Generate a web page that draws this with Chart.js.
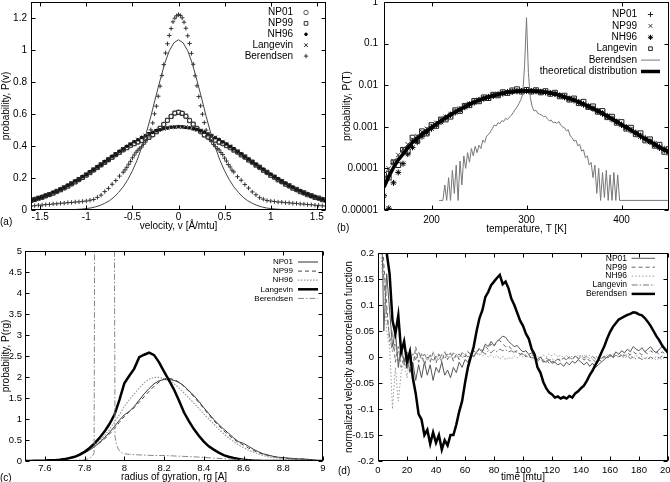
<!DOCTYPE html>
<html>
<head>
<meta charset="utf-8">
<script src="https://cdn.jsdelivr.net/npm/chart.js@4.4.1/dist/chart.umd.min.js"></script>
<style>
  html, body { margin: 0; padding: 0; background: #fff; }
  #wrap { position: relative; width: 670px; height: 482px; overflow: hidden; }
  canvas { position: absolute; }
</style>
</head>
<body>
<div id="wrap">
  <canvas id="chart-a" width="335" height="241" style="left:0;top:0"></canvas>
  <canvas id="chart-b" width="335" height="241" style="left:335px;top:0"></canvas>
  <canvas id="chart-c" width="335" height="241" style="left:0;top:241px"></canvas>
  <canvas id="chart-d" width="335" height="241" style="left:335px;top:241px"></canvas>
</div>
<script>
// ---- (a) velocity distribution ----
let vel = [-1.6,-1.56,-1.52,-1.48,-1.44,-1.4,-1.36,-1.32,-1.28,-1.24,-1.2,-1.16,-1.12,-1.08,-1.04,-1,-0.96,-0.92,-0.88,-0.84,
  -0.8,-0.76,-0.72,-0.68,-0.64,-0.6,-0.56,-0.52,-0.48,-0.44,-0.4,-0.36,-0.32,-0.28,-0.24,-0.2,-0.16,-0.12,-0.08,-0.04,0,
  0.04,0.08,0.12,0.16,0.2,0.24,0.28,0.32,0.36,0.4,0.44,0.48,0.52,0.56,0.6,0.64,0.68,0.72,0.76,0.8,
  0.84,0.88,0.92,0.96,1,1.04,1.08,1.12,1.16,1.2,1.24,1.28,1.32,1.36,1.4,1.44,1.48,1.52,1.56,1.6];
let np01A = [0.061,0.067,0.072,0.081,0.088,0.096,0.107,0.115,0.128,0.137,0.151,0.162,0.177,0.189,0.205,0.217,0.235,0.249,0.267,0.281,
  0.299,0.313,0.331,0.345,0.362,0.375,0.391,0.403,0.416,0.424,0.436,0.444,0.456,0.469,0.491,0.509,0.536,0.559,0.586,0.604,0.612,
  0.606,0.584,0.561,0.534,0.511,0.489,0.471,0.454,0.446,0.434,0.426,0.414,0.405,0.389,0.377,0.36,0.347,0.329,0.315,0.297,
  0.283,0.265,0.251,0.233,0.219,0.203,0.191,0.175,0.164,0.149,0.139,0.126,0.117,0.105,0.098,0.087,0.081,0.072,0.067,0.059];
let np99A = [0.059,0.065,0.074,0.079,0.089,0.097,0.105,0.117,0.126,0.139,0.149,0.164,0.175,0.191,0.203,0.219,0.233,0.251,0.265,0.283,
  0.297,0.315,0.329,0.347,0.36,0.377,0.389,0.405,0.414,0.426,0.434,0.446,0.454,0.471,0.489,0.511,0.534,0.561,0.584,0.606,0.61,
  0.603,0.587,0.558,0.537,0.508,0.492,0.468,0.457,0.443,0.437,0.423,0.417,0.402,0.392,0.374,0.363,0.344,0.332,0.312,0.3,
  0.28,0.268,0.248,0.236,0.216,0.206,0.188,0.178,0.161,0.152,0.136,0.129,0.114,0.108,0.095,0.09,0.078,0.075,0.064,0.062];
let nh96A = [0.06,0.065,0.074,0.08,0.09,0.097,0.109,0.117,0.13,0.14,0.154,0.165,0.181,0.192,0.208,0.221,0.238,0.251,0.269,0.283,
  0.301,0.315,0.334,0.348,0.366,0.38,0.398,0.411,0.427,0.439,0.454,0.464,0.477,0.485,0.496,0.501,0.509,0.512,0.518,0.518,0.521,
  0.52,0.516,0.514,0.507,0.503,0.494,0.487,0.475,0.466,0.452,0.441,0.425,0.413,0.396,0.382,0.364,0.35,0.332,0.317,0.299,
  0.285,0.267,0.253,0.236,0.223,0.206,0.194,0.179,0.167,0.152,0.142,0.128,0.119,0.107,0.099,0.088,0.082,0.072,0.067,0.058];
let langA = [0.058,0.067,0.072,0.082,0.088,0.099,0.107,0.119,0.128,0.142,0.152,0.167,0.179,0.194,0.206,0.223,0.236,0.253,0.267,0.285,
  0.299,0.317,0.332,0.35,0.364,0.382,0.396,0.413,0.425,0.441,0.452,0.466,0.475,0.487,0.494,0.503,0.507,0.514,0.516,0.52,0.519,
  0.518,0.518,0.512,0.509,0.501,0.496,0.485,0.477,0.464,0.454,0.439,0.427,0.411,0.398,0.38,0.366,0.348,0.334,0.315,0.301,
  0.283,0.269,0.251,0.238,0.221,0.208,0.192,0.181,0.165,0.154,0.14,0.13,0.117,0.109,0.097,0.09,0.08,0.074,0.065,0.06];
let velB = [-1.6,-1.56,-1.52,-1.48,-1.44,-1.4,-1.36,-1.32,-1.28,-1.24,-1.2,-1.16,-1.12,-1.08,-1.04,-1,-0.96,-0.92,-0.88,-0.84,-0.8,-0.76,-0.72,-0.68,-0.64,
  -0.6,-0.58,-0.56,-0.54,-0.52,-0.5,-0.48,-0.46,-0.44,-0.42,-0.4,-0.38,-0.36,-0.34,-0.32,-0.3,-0.28,-0.26,-0.24,-0.22,
  -0.2,-0.18,-0.16,-0.14,-0.12,-0.1,-0.08,-0.06,-0.04,-0.02,0,0.02,0.04,0.06,0.08,0.1,0.12,0.14,0.16,0.18,
  0.2,0.22,0.24,0.26,0.28,0.3,0.32,0.34,0.36,0.38,0.4,0.42,0.44,0.46,0.48,0.5,0.52,0.54,0.56,0.58,
  0.6,0.64,0.68,0.72,0.76,0.8,0.84,0.88,0.92,0.96,1,1.04,1.08,1.12,1.16,1.2,1.24,1.28,1.32,1.36,1.4,1.44,1.48,1.52,1.56,1.6];
let berA = [0.024,0.027,0.03,0.031,0.034,0.035,0.038,0.039,0.042,0.043,0.046,0.047,0.05,0.051,0.054,0.056,0.061,0.066,0.079,0.093,0.115,0.135,0.161,0.184,0.212,
  0.236,0.251,0.267,0.286,0.304,0.326,0.344,0.361,0.374,0.386,0.394,0.411,0.424,0.441,0.464,0.501,0.544,0.601,0.649,0.711,
  0.774,0.841,0.909,0.981,1.039,1.091,1.134,1.176,1.199,1.214,1.221,1.216,1.201,1.174,1.136,1.089,1.041,0.979,0.911,0.839,
  0.776,0.709,0.651,0.599,0.546,0.499,0.466,0.439,0.426,0.409,0.396,0.384,0.376,0.359,0.346,0.324,0.306,0.284,0.269,0.249,
  0.238,0.208,0.186,0.159,0.137,0.113,0.095,0.077,0.068,0.059,0.056,0.053,0.05,0.049,0.046,0.045,0.042,0.041,0.038,0.037,0.034,0.033,0.03,0.029,0.026,0.025];
let velL = [-1.6,-1.55,-1.5,-1.45,-1.4,-1.35,-1.3,-1.25,-1.2,-1.15,-1.1,-1.05,-1,-0.95,-0.9,-0.85,-0.8,-0.75,-0.7,-0.65,-0.6,-0.55,-0.5,-0.45,-0.4,-0.35,-0.3,-0.25,-0.2,-0.15,-0.1,-0.05,0,
  0.05,0.1,0.15,0.2,0.25,0.3,0.35,0.4,0.45,0.5,0.55,0.6,0.65,0.7,0.75,0.8,0.85,0.9,0.95,1,1.05,1.1,1.15,1.2,1.25,1.3,1.35,1.4,1.45,1.5,1.55,1.6];
let curveA = [0,0,0.0001,0.0001,0.0002,0.0003,0.0005,0.001,0.0015,0.0025,0.004,0.006,0.009,0.013,0.02,0.029,0.042,0.058,0.08,0.11,0.145,0.19,0.245,0.31,0.39,0.48,0.585,0.7,0.81,0.915,0.995,1.045,1.064,
  1.045,0.995,0.915,0.81,0.7,0.585,0.48,0.39,0.31,0.245,0.19,0.145,0.11,0.08,0.058,0.042,0.029,0.02,0.013,0.009,0.006,0.004,0.0025,0.0015,0.001,0.0005,0.0003,0.0002,0.0001,0.0001,0,0];
let aTicksX = [-1.5,-1,-0.5,0,0.5,1,1.5];
let aLabelsX = ['-1.5','-1','-0.5','0','0.5','1','1.5'];
let aTicksY = [0,0.2,0.4,0.6,0.8,1,1.2];
let aLabelsY = ['0','0.2','0.4','0.6','0.8','1','1.2'];

// ---- (b) temperature distribution ----
let temps = [150,155,160,165,170,175,180,185,190,195,200,205,210,215,220,225,230,235,240,245,250,255,260,265,270,275,280,285,290,295,
  300,305,310,315,320,325,330,335,340,345,350,355,360,365,370,375,380,385,390,395,400,405,410,415,420,425,430,435,440,445,450];
let np01B = [5e-5,8.5e-5,1.3e-4,1.7e-4,2.6e-4,3.3e-4,4.6e-4,5.6e-4,7.0e-4,8.4e-4,
  1.0e-3,1.2e-3,1.45e-3,1.7e-3,2.0e-3,2.35e-3,2.7e-3,3.1e-3,3.5e-3,4.0e-3,
  4.5e-3,4.9e-3,5.3e-3,5.7e-3,6.1e-3,6.4e-3,6.9e-3,7.1e-3,7.3e-3,7.4e-3,
  7.5e-3,7.3e-3,7.3e-3,7.0e-3,6.8e-3,6.6e-3,6.2e-3,5.8e-3,5.3e-3,4.8e-3,
  4.5e-3,4.0e-3,3.6e-3,3.2e-3,2.8e-3,2.45e-3,2.15e-3,1.85e-3,1.6e-3,1.35e-3,
  1.15e-3,1.0e-3,8.6e-4,7.4e-4,6.2e-4,5.4e-4,4.6e-4,4.0e-4,3.4e-4,3.0e-4,2.7e-4];
let np99B = [6e-5,1.0e-4,1.5e-4,2.1e-4,2.9e-4,3.8e-4,5.0e-4,6.0e-4,7.5e-4,9.0e-4,
  1.05e-3,1.25e-3,1.5e-3,1.75e-3,2.05e-3,2.4e-3,2.75e-3,3.15e-3,3.6e-3,4.0e-3,
  4.5e-3,4.9e-3,5.4e-3,5.8e-3,6.2e-3,6.5e-3,6.9e-3,7.2e-3,7.4e-3,7.5e-3,
  7.4e-3,7.4e-3,7.2e-3,7.1e-3,6.9e-3,6.5e-3,6.3e-3,5.8e-3,5.4e-3,4.9e-3,
  4.5e-3,4.0e-3,3.6e-3,3.2e-3,2.8e-3,2.5e-3,2.2e-3,1.85e-3,1.6e-3,1.4e-3,
  1.15e-3,1.0e-3,8.7e-4,7.3e-4,6.3e-4,5.3e-4,4.6e-4,4.0e-4,3.3e-4,3.0e-4,2.6e-4];
let nh96B = [2.2e-5,1.1e-5,4.5e-5,8e-5,1.3e-4,2.2e-4,3.2e-4,4.3e-4,5.8e-4,7.2e-4,
  9.0e-4,1.1e-3,1.3e-3,1.6e-3,1.9e-3,2.2e-3,2.55e-3,2.95e-3,3.4e-3,3.8e-3,
  4.3e-3,4.7e-3,5.1e-3,5.5e-3,5.9e-3,6.3e-3,6.7e-3,6.9e-3,7.1e-3,7.2e-3,
  7.3e-3,7.2e-3,7.1e-3,6.9e-3,6.7e-3,6.4e-3,6.1e-3,5.6e-3,5.1e-3,4.7e-3,
  4.3e-3,3.85e-3,3.4e-3,3.0e-3,2.7e-3,2.35e-3,2.05e-3,1.75e-3,1.5e-3,1.3e-3,
  1.1e-3,9.4e-4,8.1e-4,6.9e-4,5.8e-4,5.0e-4,4.3e-4,3.6e-4,3.1e-4,2.7e-4,2.3e-4];
let langB = [7e-5,6e-5,1.4e-4,1.2e-4,2.8e-4,2.6e-4,5.5e-4,4.6e-4,7.8e-4,6.9e-4,
  1.1e-3,1.05e-3,1.5e-3,1.5e-3,1.75e-3,2.5e-3,2.4e-3,3.2e-3,3.3e-3,4.2e-3,
  4.1e-3,5.1e-3,4.9e-3,5.9e-3,5.7e-3,6.8e-3,6.5e-3,7.5e-3,8.0e-3,7.0e-3,
  7.7e-3,7.0e-3,7.6e-3,6.7e-3,7.2e-3,6.2e-3,6.6e-3,5.4e-3,5.6e-3,4.5e-3,
  4.8e-3,3.7e-3,4.0e-3,3.0e-3,3.1e-3,2.3e-3,2.4e-3,1.7e-3,1.75e-3,1.25e-3,
  1.3e-3,9.0e-4,9.5e-4,6.6e-4,7.0e-4,4.7e-4,5.0e-4,3.5e-4,3.7e-4,2.5e-4,2.9e-4];
let theoryB = [3.5e-5,6.3e-5,1.05e-4,1.6e-4,2.2e-4,3.1e-4,4.2e-4,5.2e-4,6.6e-4,7.9e-4,
  9.5e-4,1.15e-3,1.38e-3,1.66e-3,1.95e-3,2.26e-3,2.6e-3,3.0e-3,3.5e-3,3.9e-3,
  4.4e-3,4.8e-3,5.2e-3,5.6e-3,6.0e-3,6.4e-3,6.8e-3,7.0e-3,7.2e-3,7.3e-3,
  7.4e-3,7.3e-3,7.2e-3,7.0e-3,6.8e-3,6.5e-3,6.2e-3,5.7e-3,5.2e-3,4.8e-3,
  4.4e-3,3.9e-3,3.5e-3,3.1e-3,2.75e-3,2.4e-3,2.1e-3,1.8e-3,1.55e-3,1.33e-3,
  1.12e-3,9.7e-4,8.3e-4,7.1e-4,6.0e-4,5.1e-4,4.4e-4,3.8e-4,3.2e-4,2.8e-4,2.5e-4];
let tempBer = [208,210,212,214,216,218,220,222,224,226,228,230,232,234,236,238,240,242,244,246,248,250,252,254,256,258,
  260,262,264,266,268,270,272,274,276,278,280,282,284,286,288,290,292,294,296,298,300,302,304,306,308,
  310,312,314,316,318,320,322,324,326,328,330,332,334,336,338,340,342,344,346,348,350,352,354,356,358,
  360,362,364,366,368,370,372,374,376,378,380,382,384,386,388,390,392,394,396,398,450];
let berB = [1.7e-5,1.7e-5,1.7e-5,4e-5,1.7e-5,6e-5,1.7e-5,9e-5,2.5e-5,1.2e-4,1.7e-5,1.5e-4,4e-5,2.0e-4,1.0e-4,2.4e-4,1.4e-4,3.0e-4,2.0e-4,3.4e-4,2.4e-4,3.6e-4,3.0e-4,4.8e-4,4.2e-4,6.0e-4,
  6.5e-4,7.5e-4,9.0e-4,1.1e-3,1.05e-3,1.25e-3,1.2e-3,1.4e-3,1.35e-3,1.6e-3,1.5e-3,1.7e-3,1.9e-3,2.2e-3,2.6e-3,3.0e-3,3.6e-3,4.5e-3,6.0e-3,3.0e-2,4.2e-1,2.0e-2,5.0e-3,3.0e-3,2.4e-3,
  2.5e-3,2.1e-3,2.0e-3,1.9e-3,1.75e-3,1.8e-3,1.55e-3,1.4e-3,1.45e-3,1.25e-3,1.3e-3,1.2e-3,1.35e-3,1.1e-3,1.0e-3,9.5e-4,8.0e-4,8.5e-4,6.0e-4,5.5e-4,4.5e-4,4.8e-4,3.5e-4,3.8e-4,2.6e-4,
  2.8e-4,1.8e-4,2.0e-4,1.2e-4,1.4e-4,6e-5,1.2e-4,2.5e-5,1.0e-4,1.7e-5,8e-5,2.0e-5,9e-5,1.7e-5,7e-5,1.7e-5,8e-5,1.7e-5,7e-5,1.7e-5,1.7e-5];
let bTicksX = [200,300,400];
let bLabelsX = ['200','300','400'];
let bTicksY = [0.00001,0.0001,0.001,0.01,0.1,1];
let bLabelsY = ['0.00001','0.0001','0.001','0.01','0.1','1'];

// ---- (c) radius of gyration ----
let rg = [7.5,7.525,7.55,7.575,7.6,7.625,7.65,7.675,7.7,7.725,7.75,7.775,7.8,7.825,7.85,7.875,7.9,7.925,7.95,7.975,
  8,8.025,8.05,8.075,8.1,8.125,8.15,8.175,8.2,8.225,8.25,8.275,8.3,8.325,8.35,8.375,8.4,8.425,8.45,8.475,
  8.5,8.525,8.55,8.575,8.6,8.625,8.65,8.675,8.7,8.725,8.75,8.775,8.8,8.825,8.85,8.875,8.9,8.925,8.95,8.975,9];
let np01C = [0,0.002,0.005,0.008,0.01,0.014,0.02,0.03,0.04,0.06,0.09,0.13,0.19,0.26,0.34,0.44,0.55,0.68,0.82,0.97,
  1.1,1.18,1.3,1.45,1.6,1.73,1.84,1.91,1.94,1.94,1.92,1.87,1.79,1.67,1.56,1.42,1.27,1.13,0.99,0.87,
  0.76,0.66,0.55,0.46,0.42,0.35,0.28,0.22,0.17,0.14,0.11,0.09,0.08,0.07,0.06,0.05,0.05,0.04,0.025,0.012,0];
let np99C = [0,0.002,0.004,0.007,0.01,0.013,0.02,0.03,0.045,0.065,0.095,0.14,0.2,0.27,0.35,0.43,0.52,0.64,0.77,0.92,
  1.06,1.17,1.27,1.4,1.53,1.66,1.78,1.88,1.96,1.97,1.94,1.88,1.78,1.66,1.53,1.39,1.25,1.1,0.96,0.84,
  0.72,0.62,0.52,0.44,0.38,0.31,0.25,0.2,0.16,0.13,0.1,0.085,0.07,0.06,0.05,0.045,0.04,0.03,0.02,0.01,0];
let nh96C = [0,0.002,0.005,0.008,0.012,0.017,0.025,0.035,0.05,0.075,0.11,0.16,0.22,0.29,0.37,0.47,0.6,0.75,0.92,1.1,
  1.3,1.46,1.6,1.74,1.86,1.95,1.99,1.99,1.96,1.91,1.84,1.74,1.62,1.5,1.38,1.25,1.12,1.0,0.88,0.76,
  0.65,0.55,0.46,0.38,0.32,0.26,0.21,0.17,0.13,0.1,0.08,0.065,0.055,0.045,0.038,0.03,0.025,0.02,0.012,0.006,0];
let langC = [0,0.002,0.005,0.008,0.01,0.015,0.02,0.03,0.045,0.07,0.1,0.15,0.22,0.31,0.42,0.55,0.7,0.88,1.1,1.45,
  1.85,2.03,2.2,2.47,2.53,2.58,2.52,2.35,2.13,1.92,1.7,1.44,1.16,0.95,0.76,0.6,0.46,0.35,0.27,0.2,
  0.14,0.1,0.07,0.05,0.03,0.02,0.01,0.005,0.002,0,0,0,0,0,0,0,0,0,0,0,0];
let rgBer = [7.5,7.6,7.7,7.75,7.8,7.825,7.84,7.848,7.852,7.9,7.948,7.953,7.96,7.97,7.98,7.99,8,8.025,8.05,8.1,
  8.15,8.2,8.25,8.3,8.35,8.4,8.45,8.5,8.55,8.6,8.65,8.7,8.8,8.9,9];
let berC = [0,0.002,0.008,0.015,0.03,0.06,0.12,0.2,9,12,9,0.58,0.4,0.28,0.22,0.19,0.17,0.16,0.15,0.14,
  0.13,0.13,0.12,0.11,0.1,0.085,0.07,0.055,0.04,0.03,0.02,0.012,0.006,0.003,0];
let cTicksX = [7.6,7.8,8,8.2,8.4,8.6,8.8,9];
let cLabelsX = ['7.6','7.8','8','8.2','8.4','8.6','8.8','9'];
let cTicksY = [0,0.5,1,1.5,2,2.5,3,3.5,4,4.5,5];
let cLabelsY = ['0','0.5','1','1.5','2','2.5','3','3.5','4','4.5','5'];

// ---- (d) velocity autocorrelation ----
let time = [0,2,4,6,8,10,12,14,16,18,20,22,24,26,28,30,32,34,36,38,40,42,44,46,48,50,52,54,56,58,
  60,62,64,66,68,70,72,74,76,78,80,82,84,86,88,90,92,94,96,98,100,102,104,106,108,110,112,114,116,118,
  120,122,124,126,128,130,132,134,136,138,140,142,144,146,148,150,152,154,156,158,
  160,162,164,166,168,170,172,174,176,178,180,182,184,186,188,190,192,194,196,198,200];
let np01D = [1.0,0.35,0.05,0.16,0.09,0.02,0.05,-0.02,0.02,-0.01,
  0.01,-0.03,-0.01,-0.045,-0.015,-0.04,-0.01,-0.035,-0.015,-0.045,
  -0.02,-0.03,-0.01,-0.035,-0.025,-0.04,-0.02,-0.03,-0.01,-0.02,
  -0.005,-0.01,0.005,0.0,0.01,0.015,0.01,0.025,0.02,0.03,
  0.022,0.03,0.035,0.04,0.038,0.03,0.025,0.02,0.022,0.015,
  0.01,0.012,0.005,0.008,0.0,-0.005,0.0,-0.008,-0.01,-0.005,
  -0.012,-0.01,-0.015,-0.012,-0.018,-0.01,-0.015,-0.008,-0.012,-0.005,
  -0.01,-0.015,-0.01,-0.018,-0.012,-0.02,-0.015,-0.01,-0.005,0.0,
  0.005,0.0,0.01,0.005,0.012,0.008,0.015,0.01,0.02,0.015,
  0.012,0.018,0.01,0.015,0.02,0.012,0.008,0.015,0.02,0.012,0.01];
let np99D = [1.0,0.3,0.18,0.1,0.03,0.05,-0.01,0.02,-0.02,0.0,
  -0.025,0.005,-0.02,0.02,-0.01,0.005,-0.015,0.0,-0.01,0.008,
  -0.012,0.005,-0.01,0.01,-0.005,0.008,-0.008,0.005,-0.005,0.008,
  0.0,0.01,0.005,0.012,0.008,0.018,0.012,0.02,0.015,0.025,
  0.02,0.03,0.032,0.025,0.02,0.022,0.015,0.01,0.012,0.005,
  0.008,0.0,0.005,-0.005,0.0,-0.008,-0.003,-0.01,-0.005,-0.012,
  -0.008,-0.01,-0.004,-0.008,-0.002,-0.006,0.0,-0.005,0.002,-0.004,
  0.0,-0.006,-0.002,-0.008,-0.004,-0.01,-0.005,-0.008,0.0,-0.004,
  0.003,-0.002,0.004,0.0,0.006,0.002,0.008,0.004,0.01,0.006,
  0.008,0.004,0.01,0.006,0.012,0.008,0.01,0.005,0.01,0.006,0.008];
let nh96D = [1.0,0.2,0.12,0.05,0.02,-0.1,-0.02,-0.085,-0.03,-0.01,
  -0.04,0.0,-0.02,0.01,-0.01,0.008,-0.012,0.005,-0.008,0.01,
  -0.005,0.008,-0.006,0.01,0.0,0.008,-0.004,0.006,-0.002,0.01,
  0.004,0.012,0.006,0.01,0.004,0.008,0.002,0.006,0.0,0.004,
  -0.002,0.003,-0.004,0.002,-0.006,0.0,-0.004,0.002,-0.002,0.004,
  0.0,0.005,-0.002,0.004,-0.004,0.002,-0.003,0.004,0.0,0.006,
  0.002,0.006,0.0,0.004,-0.002,0.003,-0.004,0.002,-0.002,0.004,
  0.0,0.005,-0.002,0.003,-0.004,0.002,-0.003,0.004,-0.002,0.005,
  0.0,0.006,0.002,0.008,0.003,0.006,0.0,0.004,-0.002,0.003,
  -0.003,0.002,-0.004,0.0,-0.005,-0.002,-0.006,-0.002,-0.005,0.0,-0.003];
let langD = [1.0,0.25,0.15,0.08,0.04,0.01,0.03,-0.01,0.015,-0.015,
  0.005,-0.01,0.008,-0.005,0.01,-0.004,0.006,-0.006,0.004,-0.008,
  0.002,-0.006,0.005,-0.004,0.006,-0.002,0.008,0.0,0.006,-0.002,
  0.005,0.0,0.006,0.002,0.008,0.004,0.01,0.006,0.012,0.008,
  0.014,0.01,0.015,0.012,0.014,0.01,0.012,0.008,0.01,0.005,
  0.006,0.002,0.004,-0.002,0.002,-0.004,0.0,-0.006,-0.002,-0.006,
  -0.003,-0.008,-0.004,-0.006,-0.002,-0.005,0.0,-0.004,0.002,-0.002,
  0.003,-0.002,0.002,-0.003,0.001,-0.004,0.0,-0.003,0.002,-0.002,
  0.003,0.0,0.004,0.0,0.003,-0.002,0.002,-0.003,0.0,-0.004,
  -0.001,-0.005,-0.002,-0.004,0.0,-0.003,0.001,-0.002,0.002,-0.001,0.003];
let berD = [1.0,0.45,0.26,0.2,0.16,0.07,0.045,0.08,0.01,0.03,
  -0.01,0.01,-0.04,-0.07,-0.11,-0.12,-0.15,-0.14,-0.167,-0.145,
  -0.165,-0.15,-0.178,-0.16,-0.17,-0.15,-0.15,-0.13,-0.105,-0.085,
  -0.05,-0.02,0.0,0.02,0.05,0.075,0.09,0.115,0.125,0.138,
  0.145,0.152,0.158,0.14,0.145,0.132,0.112,0.1,0.085,0.07,
  0.06,0.045,0.035,0.015,0.005,-0.02,-0.03,-0.048,-0.06,-0.068,
  -0.072,-0.078,-0.076,-0.08,-0.077,-0.08,-0.075,-0.078,-0.07,-0.066,
  -0.06,-0.055,-0.046,-0.035,-0.026,-0.015,-0.005,0.008,0.02,0.035,
  0.048,0.058,0.065,0.072,0.075,0.078,0.081,0.083,0.086,0.085,
  0.082,0.08,0.075,0.068,0.06,0.05,0.04,0.032,0.022,0.015,0.008];
let dTicksX = [0,20,40,60,80,100,120,140,160,180,200];
let dLabelsX = ['0','20','40','60','80','100','120','140','160','180','200'];
let dTicksY = [-0.2,-0.15,-0.1,-0.05,0,0.05,0.1,0.15,0.2];
let dLabelsY = ['-0.2','-0.15','-0.1','-0.05','0','0.05','0.1','0.15','0.2'];

const FONT = '"Liberation Sans", Arial, Helvetica, sans-serif';

function pts(xs, ys) { return xs.map((x, i) => ({x: x, y: ys[i]})); }

function marks(label, xs, ys, style, r, color, fill, order) {
  return { label: label, data: pts(xs, ys), showLine: false, pointStyle: style, pointRadius: r,
    borderColor: color, backgroundColor: fill, pointBorderWidth: 1, order: order };
}
function curve(label, xs, ys, color, width, dash, order) {
  return { label: label, data: pts(xs, ys), showLine: true, pointRadius: 0, borderColor: color,
    borderWidth: width, borderDash: dash, order: order, fill: false, tension: 0 };
}

// gnuplot-like box with inward ticks, panel tag and legend
const framePlugin = {
  id: 'frame',
  afterDraw(chart, args, o) {
    const ctx = chart.ctx, a = chart.chartArea;
    const l = Math.round(a.left) + 0.5, r = Math.round(a.right) - 0.5;
    const t = Math.round(a.top) + 0.5, b = Math.round(a.bottom) - 0.5;
    ctx.save();
    ctx.strokeStyle = '#000';
    ctx.lineWidth = 1;
    ctx.strokeRect(l, t, r - l, b - t);
    ctx.beginPath();
    chart.scales.x.ticks.forEach(tk => {
      const px = Math.round(chart.scales.x.getPixelForValue(tk.value)) + 0.5;
      ctx.moveTo(px, b); ctx.lineTo(px, b - 4);
      ctx.moveTo(px, t); ctx.lineTo(px, t + 4);
    });
    chart.scales.y.ticks.forEach(tk => {
      const py = Math.round(chart.scales.y.getPixelForValue(tk.value)) + 0.5;
      ctx.moveTo(l, py); ctx.lineTo(l + 4, py);
      ctx.moveTo(r, py); ctx.lineTo(r - 4, py);
    });
    ctx.stroke();

    ctx.fillStyle = '#000';
    ctx.font = '10px ' + FONT;
    ctx.textBaseline = 'middle';
    ctx.textAlign = 'left';
    ctx.fillText(o.tag, o.tagX, o.tagY);

    const L = o.legend;
    ctx.font = L.size + 'px ' + FONT;
    let row = 0;
    chart.data.datasets.forEach(ds => {
      if (!ds.label) return;
      const y = L.y + row * L.dy;
      row++;
      ctx.textAlign = 'right';
      ctx.fillStyle = '#000';
      ctx.fillText(ds.label, L.x, y);
      if (ds.showLine) {
        ctx.beginPath();
        ctx.strokeStyle = ds.borderColor;
        ctx.lineWidth = ds.borderWidth;
        ctx.setLineDash(ds.borderDash || []);
        ctx.moveTo(L.sx - L.sw, y);
        ctx.lineTo(L.sx + L.sw, y);
        ctx.stroke();
        ctx.setLineDash([]);
      } else {
        ctx.strokeStyle = ds.borderColor;
        ctx.fillStyle = ds.backgroundColor;
        ctx.lineWidth = 1;
        Chart.helpers.drawPoint(ctx, {pointStyle: ds.pointStyle, radius: Math.min(ds.pointRadius, 2.6), borderWidth: 1, rotation: 0}, L.sx, y);
      }
    });
    ctx.restore();
  }
};

function axis(dir, a) {
  return {
    type: a.type || 'linear',
    position: dir === 'x' ? 'bottom' : 'left',
    min: a.min,
    max: a.max,
    grid: { display: false, drawTicks: false },
    border: { display: false },
    afterBuildTicks: s => { s.ticks = a.ticks.map(v => ({value: v})); },
    afterFit: s => {
      if (dir === 'x') { s.height = a.size; s.paddingLeft = 0; s.paddingRight = 0; }
      else { s.width = a.size; s.paddingTop = 0; s.paddingBottom = 0; }
    },
    ticks: { autoSkip: false, maxRotation: 0, padding: a.tickPad, color: '#000',
      font: { family: FONT, size: a.font }, callback: (v, i) => a.labels[i] },
    title: { display: true, text: a.title, color: '#000', font: { family: FONT, size: 10 },
      padding: a.titlePad }
  };
}

function panel(id, o) {
  return new Chart(document.getElementById(id), {
    type: 'scatter',
    data: { datasets: o.datasets },
    options: {
      responsive: false,
      animation: false,
      devicePixelRatio: 1,
      layout: { padding: o.pad, autoPadding: false },
      plugins: { legend: { display: false }, tooltip: { enabled: false }, frame: o.frame },
      scales: { x: axis('x', o.x), y: axis('y', o.y) }
    },
    plugins: [framePlugin]
  });
}

panel('chart-a', {
  pad: { left: 0, right: 9, top: 2, bottom: 0 },
  datasets: [
    marks('NP01', vel, np01A, 'circle', 2.2, '#555', 'rgba(0,0,0,0)', 6),
    marks('NP99', vel, np99A, 'rect', 2.8, '#333', 'rgba(0,0,0,0)', 5),
    marks('NH96', vel, nh96A, 'circle', 1.3, '#000', '#000', 4),
    marks('Langevin', vel, langA, 'crossRot', 2.6, '#222', 'rgba(0,0,0,0)', 3),
    marks('Berendsen', velB, berA, 'cross', 2.2, '#333', 'rgba(0,0,0,0)', 2),
    curve('', velL, curveA, '#444', 1, [], 1)
  ],
  x: { min: -1.6, max: 1.6, ticks: aTicksX, labels: aLabelsX, size: 31, tickPad: 1, font: 10,
       title: 'velocity, v [\u00c5/mtu]', titlePad: { top: 0, bottom: 9 } },
  y: { min: 0, max: 1.3, ticks: aTicksY, labels: aLabelsY, size: 31, tickPad: 4, font: 10,
       title: 'probability, P(v)', titlePad: { top: 0, bottom: 0 } },
  frame: { tag: '(a)', tagX: 0, tagY: 222,
           legend: { x: 293, sx: 306, sw: 0, y: 12.5, dy: 10.9, size: 10 } }
});

panel('chart-b', {
  pad: { left: 0, right: 1, top: 2, bottom: 0 },
  datasets: [
    marks('NP01', temps, np01B, 'cross', 2.8, '#222', 'rgba(0,0,0,0)', 6),
    marks('NP99', temps, np99B, 'crossRot', 3, '#333', 'rgba(0,0,0,0)', 5),
    marks('NH96', temps, nh96B, 'star', 3, '#000', '#000', 4),
    marks('Langevin', temps, langB, 'rect', 3.4, '#222', 'rgba(0,0,0,0)', 3),
    curve('Berendsen', tempBer, berB, '#777', 1, [], 2),
    curve('theoretical distribution', temps, theoryB, '#000', 3.5, [], 1)
  ],
  x: { min: 150, max: 450, ticks: bTicksX, labels: bLabelsX, size: 31, tickPad: 4.5, font: 10,
       title: 'temperature, T [K]', titlePad: { top: 0, bottom: 6 } },
  y: { type: 'logarithmic', min: 0.00001, max: 1, ticks: bTicksY, labels: bLabelsY, size: 49, tickPad: 6, font: 10,
       title: 'probability, P(T)', titlePad: { top: 6, bottom: 0 } },
  frame: { tag: '(b)', tagX: 2, tagY: 228,
           legend: { x: 302, sx: 315.5, sw: 9.5, y: 14.5, dy: 11.4, size: 10 } }
});

panel('chart-c', {
  pad: { left: 0, right: 12, top: 10, bottom: 0 },
  datasets: [
    curve('NP01', rg, np01C, '#333', 1, [], 5),
    curve('NP99', rg, np99C, '#444', 1, [4, 3], 4),
    curve('NH96', rg, nh96C, '#999', 1.2, [1.5, 1.5], 3),
    curve('Langevin', rg, langC, '#000', 2.5, [], 2),
    curve('Berendsen', rgBer, berC, '#888', 1, [6, 2, 1.5, 2], 1)
  ],
  x: { min: 7.5, max: 9, ticks: cTicksX, labels: cLabelsX, size: 21, tickPad: 2, font: 9.5,
       title: 'radius of gyration, rg [A]', titlePad: { top: 0, bottom: -1 } },
  y: { min: 0, max: 5, ticks: cTicksY, labels: cLabelsY, size: 25, tickPad: 3, font: 9.5,
       title: 'probability, P(rg)', titlePad: { top: 0, bottom: 0 } },
  frame: { tag: '(c)', tagX: 0, tagY: 237,
           legend: { x: 293, sx: 308, sw: 10, y: 21, dy: 9.1, size: 8 } }
});

panel('chart-d', {
  pad: { left: 0, right: 2, top: 12, bottom: 0 },
  datasets: [
    curve('NP01', time, np01D, '#555', 1, [], 5),
    curve('NP99', time, np99D, '#666', 1, [4, 3], 4),
    curve('NH96', time, nh96D, '#999', 1, [1.5, 2], 3),
    curve('Langevin', time, langD, '#777', 1, [6, 2, 1.5, 2], 2),
    curve('Berendsen', time, berD, '#000', 2.5, [], 1)
  ],
  x: { min: 0, max: 200, ticks: dTicksX, labels: dLabelsX, size: 21, tickPad: 4, font: 9.5,
       title: 'time [mtu]', titlePad: { top: 0, bottom: -1 } },
  y: { min: -0.2, max: 0.2, ticks: dTicksY, labels: dLabelsY, size: 43, tickPad: 4, font: 9.5,
       title: 'normalized velocity autocorrelation function', titlePad: { top: 8, bottom: 0 } },
  frame: { tag: '(d)', tagX: 3, tagY: 230,
           legend: { x: 292, sx: 308.3, sw: 11.7, y: 17.3, dy: 8.9, size: 8.5 } }
});
</script>
</body>
</html>
